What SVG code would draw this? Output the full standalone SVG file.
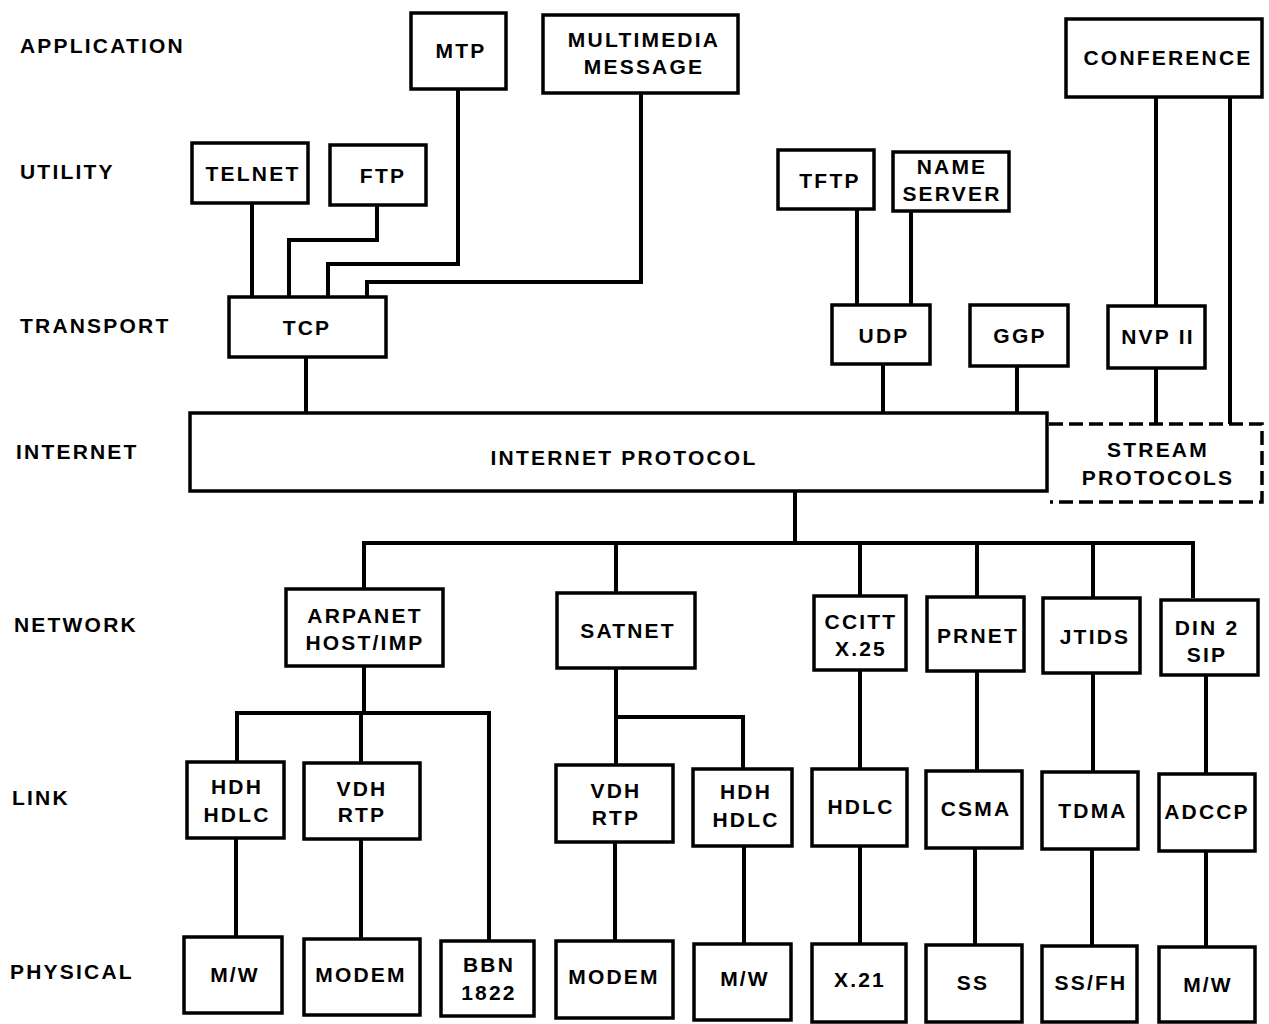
<svg xmlns="http://www.w3.org/2000/svg" width="1269" height="1024" viewBox="0 0 1269 1024">
<style>
  .bg { fill: #ffffff; }
  .box { fill: #ffffff; stroke: #000000; stroke-width: 3.5; }
  .dash { fill: none; stroke: #000000; stroke-width: 3.5; stroke-dasharray: 14 6; }
  .conn { fill: none; stroke: #000000; stroke-width: 4; stroke-linejoin: miter; }
  text { font-family: "Liberation Sans", Arial, sans-serif; font-weight: bold; font-size: 21px; letter-spacing: 2.2px; fill: #000000; }
  .c { text-anchor: middle; }
</style>
<rect class="bg" x="0" y="0" width="1269" height="1024"/>

<g id="layer-labels">
  <text x="20" y="53">APPLICATION</text>
  <text x="20" y="179">UTILITY</text>
  <text x="20" y="333">TRANSPORT</text>
  <text x="16" y="459">INTERNET</text>
  <text x="14" y="632">NETWORK</text>
  <text x="12" y="805">LINK</text>
  <text x="10" y="979">PHYSICAL</text>
</g>

<g id="connectors">
  <path class="conn" d="M252,203 V297"/>
  <path class="conn" d="M377,205 V240 H289 V297"/>
  <path class="conn" d="M458,89 V264 H328 V297"/>
  <path class="conn" d="M641,93 V282 H367 V297"/>
  <path class="conn" d="M857,209 V305"/>
  <path class="conn" d="M911,211 V305"/>
  <path class="conn" d="M1156,97 V306"/>
  <path class="conn" d="M1230,97 V424"/>
  <path class="conn" d="M306,357 V413"/>
  <path class="conn" d="M883,364 V417"/>
  <path class="conn" d="M1017,366 V418"/>
  <path class="conn" d="M1156,368 V424"/>
  <path class="conn" d="M795,491 V543"/>
  <path class="conn" d="M364,589 V543 H1193 V598"/>
  <path class="conn" d="M616,543 V593"/>
  <path class="conn" d="M860,543 V596"/>
  <path class="conn" d="M977,543 V597"/>
  <path class="conn" d="M1093,543 V598"/>
  <path class="conn" d="M364,666 V713"/>
  <path class="conn" d="M237,762 V713 H489 V941"/>
  <path class="conn" d="M361,713 V763"/>
  <path class="conn" d="M616,668 V765"/>
  <path class="conn" d="M616,717 H743 V769"/>
  <path class="conn" d="M860,670 V769"/>
  <path class="conn" d="M977,671 V771"/>
  <path class="conn" d="M1093,673 V772"/>
  <path class="conn" d="M1206,675 V774"/>
  <path class="conn" d="M236,838 V937"/>
  <path class="conn" d="M361,839 V939"/>
  <path class="conn" d="M615,842 V941"/>
  <path class="conn" d="M744,846 V944"/>
  <path class="conn" d="M860,846 V944"/>
  <path class="conn" d="M975,848 V945"/>
  <path class="conn" d="M1092,849 V946"/>
  <path class="conn" d="M1206,851 V947"/>
</g>

<g id="n-mtp"><rect class="box" x="411" y="13" width="95" height="76"/><text class="c" x="461" y="58">MTP</text></g>
<g id="n-multimedia"><rect class="box" x="543" y="15" width="195" height="78"/><text class="c" x="644" y="47">MULTIMEDIA</text><text class="c" x="644" y="74">MESSAGE</text></g>
<g id="n-conference"><rect class="box" x="1066" y="19" width="196" height="78"/><text class="c" x="1168" y="65">CONFERENCE</text></g>

<g id="n-telnet"><rect class="box" x="192" y="143" width="116" height="60"/><text class="c" x="253" y="181">TELNET</text></g>
<g id="n-ftp"><rect class="box" x="330" y="145" width="96" height="60"/><text class="c" x="383" y="183">FTP</text></g>
<g id="n-tftp"><rect class="box" x="778" y="150" width="96" height="59"/><text class="c" x="830" y="188">TFTP</text></g>
<g id="n-nameserver"><rect class="box" x="893" y="152" width="116" height="59"/><text class="c" x="952" y="174">NAME</text><text class="c" x="952" y="201">SERVER</text></g>

<g id="n-tcp"><rect class="box" x="229" y="297" width="157" height="60"/><text class="c" x="307" y="335">TCP</text></g>
<g id="n-udp"><rect class="box" x="832" y="305" width="98" height="59"/><text class="c" x="884" y="343">UDP</text></g>
<g id="n-ggp"><rect class="box" x="970" y="305" width="98" height="61"/><text class="c" x="1020" y="343">GGP</text></g>
<g id="n-nvp"><rect class="box" x="1108" y="306" width="97" height="62"/><text class="c" x="1158" y="344">NVP II</text></g>

<g id="n-ip"><rect class="box" x="190" y="413" width="857" height="78"/><text class="c" x="624" y="465">INTERNET PROTOCOL</text></g>
<g id="n-stream"><path class="dash" d="M1049,424 H1262 V502 H1050"/><text class="c" x="1158" y="457">STREAM</text><text class="c" x="1158" y="485">PROTOCOLS</text></g>

<g id="n-arpanet"><rect class="box" x="286" y="589" width="157" height="77"/><text class="c" x="365" y="623">ARPANET</text><text class="c" x="365" y="650">HOST/IMP</text></g>
<g id="n-satnet"><rect class="box" x="557" y="593" width="138" height="75"/><text class="c" x="628" y="638">SATNET</text></g>
<g id="n-ccitt"><rect class="box" x="814" y="596" width="92" height="74"/><text class="c" x="861" y="629">CCITT</text><text class="c" x="861" y="656">X.25</text></g>
<g id="n-prnet"><rect class="box" x="927" y="597" width="97" height="74"/><text class="c" x="978" y="643">PRNET</text></g>
<g id="n-jtids"><rect class="box" x="1043" y="598" width="97" height="75"/><text class="c" x="1095" y="644">JTIDS</text></g>
<g id="n-din"><rect class="box" x="1161" y="600" width="97" height="75"/><text class="c" x="1207" y="635">DIN 2</text><text class="c" x="1207" y="662">SIP</text></g>

<g id="n-hdh1"><rect class="box" x="187" y="762" width="97" height="76"/><text class="c" x="237" y="794">HDH</text><text class="c" x="237" y="822">HDLC</text></g>
<g id="n-vdh1"><rect class="box" x="304" y="763" width="116" height="76"/><text class="c" x="362" y="796">VDH</text><text class="c" x="362" y="822">RTP</text></g>
<g id="n-vdh2"><rect class="box" x="556" y="765" width="117" height="77"/><text class="c" x="616" y="798">VDH</text><text class="c" x="616" y="825">RTP</text></g>
<g id="n-hdh2"><rect class="box" x="693" y="769" width="99" height="77"/><text class="c" x="746" y="799">HDH</text><text class="c" x="746" y="827">HDLC</text></g>
<g id="n-hdlc"><rect class="box" x="812" y="769" width="95" height="77"/><text class="c" x="861" y="814">HDLC</text></g>
<g id="n-csma"><rect class="box" x="926" y="771" width="96" height="77"/><text class="c" x="976" y="816">CSMA</text></g>
<g id="n-tdma"><rect class="box" x="1042" y="772" width="96" height="77"/><text class="c" x="1093" y="818">TDMA</text></g>
<g id="n-adccp"><rect class="box" x="1159" y="774" width="96" height="77"/><text class="c" x="1207" y="819">ADCCP</text></g>

<g id="n-mw1"><rect class="box" x="184" y="937" width="98" height="76"/><text class="c" x="235" y="982">M/W</text></g>
<g id="n-modem1"><rect class="box" x="304" y="939" width="116" height="76"/><text class="c" x="361" y="982">MODEM</text></g>
<g id="n-bbn"><rect class="box" x="441" y="941" width="93" height="75"/><text class="c" x="489" y="972">BBN</text><text class="c" x="489" y="1000">1822</text></g>
<g id="n-modem2"><rect class="box" x="556" y="941" width="117" height="77"/><text class="c" x="614" y="984">MODEM</text></g>
<g id="n-mw2"><rect class="box" x="694" y="944" width="97" height="76"/><text class="c" x="745" y="986">M/W</text></g>
<g id="n-x21"><rect class="box" x="812" y="944" width="94" height="78"/><text class="c" x="860" y="987">X.21</text></g>
<g id="n-ss"><rect class="box" x="926" y="945" width="96" height="77"/><text class="c" x="973" y="990">SS</text></g>
<g id="n-ssfh"><rect class="box" x="1042" y="946" width="95" height="76"/><text class="c" x="1091" y="990">SS/FH</text></g>
<g id="n-mw3"><rect class="box" x="1159" y="947" width="96" height="75"/><text class="c" x="1208" y="992">M/W</text></g>
</svg>
